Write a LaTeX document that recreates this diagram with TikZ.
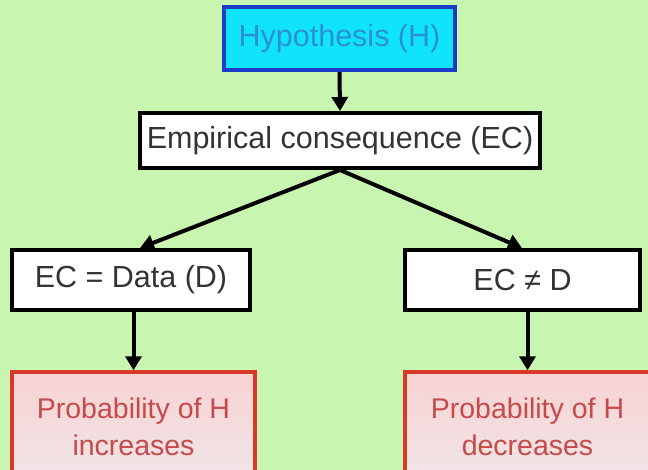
\documentclass[tikz,border=0pt]{standalone}
\usepackage{fontspec}
\setmainfont{Liberation Sans}
\usetikzlibrary{arrows.meta,calc}
\definecolor{bg}{HTML}{C8F5B0}
\definecolor{hfill}{HTML}{10E4FA}
\definecolor{hborder}{HTML}{1A3CC8}
\definecolor{htext}{HTML}{2A8FD6}
\definecolor{pborder}{HTML}{D8382A}
\definecolor{ptext}{HTML}{C64A4A}
\definecolor{ptop}{HTML}{F7D2D2}
\definecolor{pbot}{HTML}{F0E6E8}
\definecolor{btext}{HTML}{333333}
\tikzset{
  box/.style={draw=black, line width=4pt, fill=white, inner sep=0pt, text=btext,
     font=\fontsize{30.5}{37}\selectfont, align=center},
  hbox/.style={box, draw=hborder, fill=hfill, text=htext},
  pbox/.style={box, draw=pborder, line width=3.5pt, top color=ptop, bottom color=pbot, text=ptext,
     font=\fontsize{28.5}{37}\selectfont},
  conn/.style={line width=4pt, -{Triangle[length=14pt,width=16pt]}}
}
\begin{document}
\begin{tikzpicture}[x=1pt,y=1pt]
\useasboundingbox (0,0) rectangle (648,-470);
\fill[bg] (0,0) rectangle (648,-470);
\clip (0,0) rectangle (648,-470);
\node[hbox, minimum width=231pt, minimum height=63pt] (H) at (339.5,-38.5) {Hypothesis (H)};
\node[box, minimum width=400pt, minimum height=55pt] (EC) at (340,-140.5) {Empirical consequence (EC)};
\node[box, minimum width=238pt, minimum height=60pt] (L) at (131,-280) {EC = Data (D)};
\node[box, minimum width=235pt, minimum height=60pt] (R) at (522.5,-280) {EC ≠ D};
\node[pbox, minimum width=243pt, minimum height=110pt] (PL) at (133.5,-427) {Probability of H\\increases};
\node[pbox, minimum width=245pt, minimum height=110pt] (PR) at (527.5,-427) {Probability of H\\decreases};
\draw[conn] (H.south) -- (EC.north);
\draw[conn] (EC.south) -- ($(L.north)+(9,0)$);
\draw[conn] (EC.south) -- (L.north -| 522,0) ;
\draw[conn] (L.south -| PL.north) -- (PL.north);
\draw[conn] (R.south -| PR.north) -- (PR.north);
\end{tikzpicture}
\end{document}
